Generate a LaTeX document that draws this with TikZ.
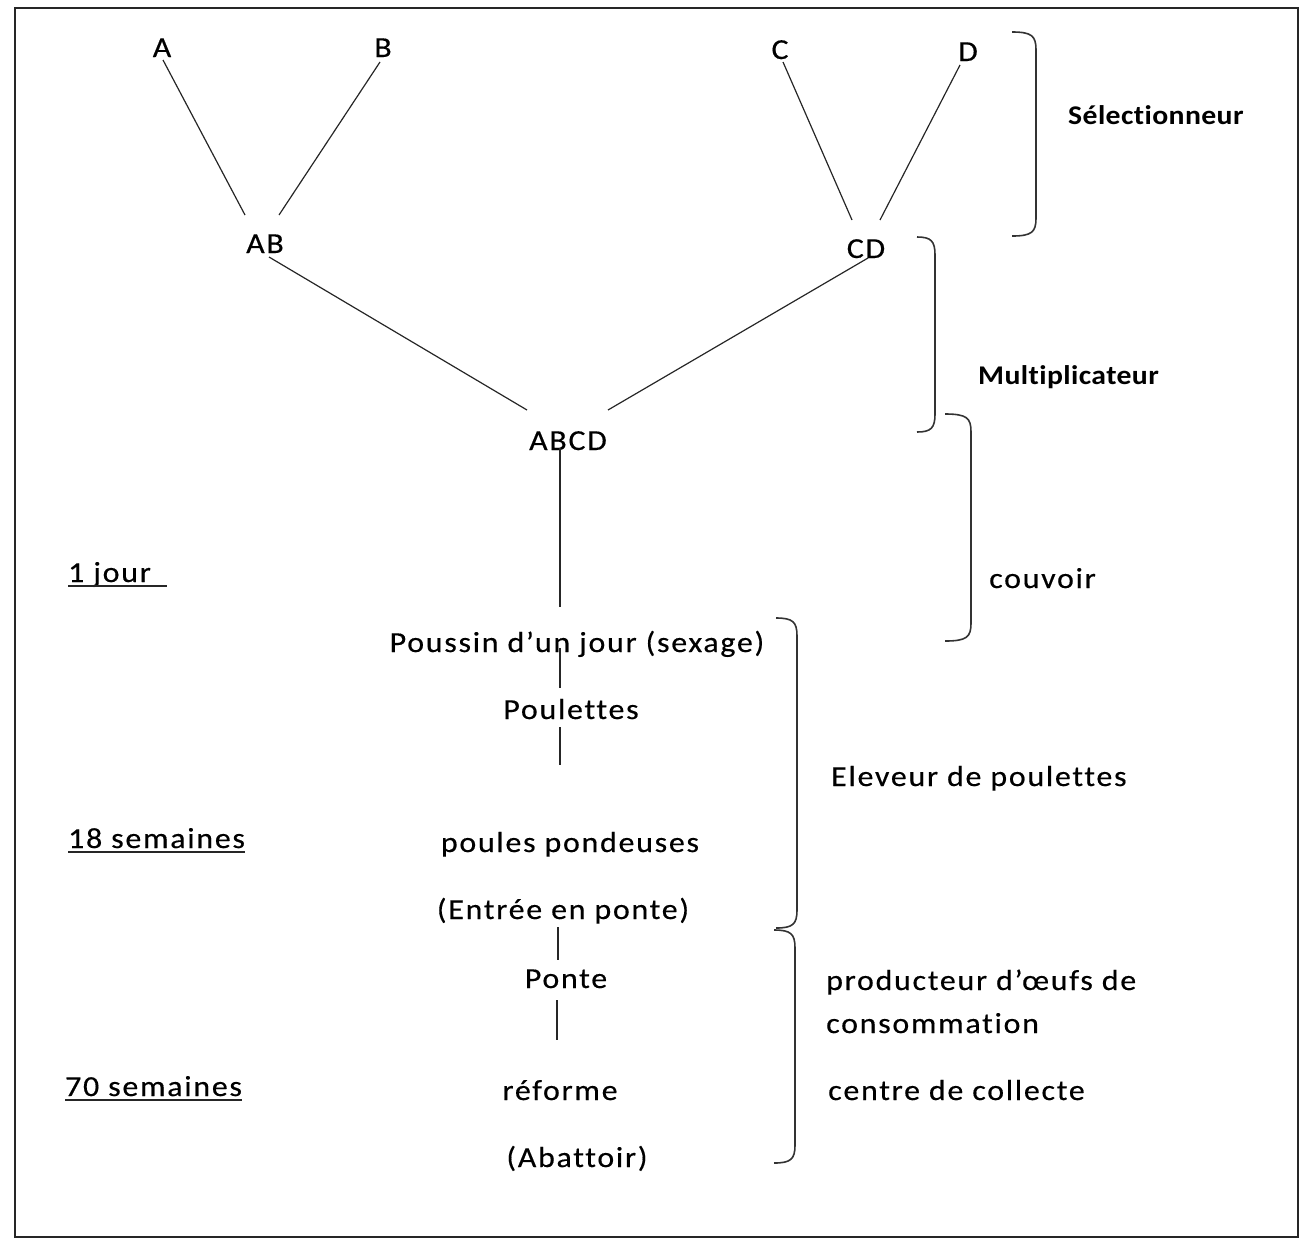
\documentclass[tikz,border=0pt]{standalone}
\usepackage{fontspec}
\setmainfont{Carlito}
\newfontfamily\lowf{Carlito}[LetterSpace=6,FakeStretch=1.1,FakeBold=0.4,Ligatures=NoCommon]
\newfontfamily\boldf{Carlito Bold}[LetterSpace=1.5,FakeStretch=1.1,Ligatures=NoCommon]
\usetikzlibrary{calc}
\newcommand{\myBracket}[4]{% x0 ytop xv ybot
  \draw[brace] (#1,#2) .. controls (#3-4,#2) and (#3,#2+4) .. (#3,#2+18)
    -- (#3,#4-18) .. controls (#3,#4-4) and (#3-4,#4) .. (#1,#4);}
\begin{document}
\begin{tikzpicture}[x=1pt,y=-1pt,
  lbl/.style={anchor=base,inner sep=0pt,font=\lowf\fontsize{29}{34}\selectfont},
  lblw/.style={lbl,anchor=base west},
  hdr/.style={anchor=base west,inner sep=0pt,font=\boldf\fontsize{27}{30}\selectfont},
  link/.style={line width=1.2pt,black!85},
  brace/.style={line width=1.6pt,black!80},
  uline/.style={line width=1.6pt,black!85}]
\useasboundingbox (0,0) rectangle (1305,1240);
\draw[line width=2.2pt,black!85] (15,8) rectangle (1298,1237);

% top labels
\node[lbl] (A) at (162,57) {A};
\node[lbl] (B) at (383,57) {B};
\node[lbl] (C) at (780,59) {C};
\node[lbl] (D) at (968,61) {D};
\node[lbl] (AB) at (265,253) {AB};
\node[lbl] (CD) at (866,258) {CD};
\node[lbl] (ABCD) at (568,450) {ABCD};

% middle column
\node[lbl] (pous) at (577,652) {Poussin d’un jour (sexage)};
\node[lbl] (poul) at (571,719) {Poulettes};
\node[lbl] (pond) at (570,852) {poules pondeuses};
\node[lbl] (entr) at (563,919) {(Entrée en ponte)};
\node[lbl] (ponte) at (566,988) {Ponte};
\node[lbl] (ref) at (560,1100) {réforme};
\node[lbl] (abat) at (577,1167) {(Abattoir)};

% left labels
\node[lblw] (j1) at (68,582) {1 jour};
\node[lblw] (s18) at (68,848) {18 semaines};
\node[lblw] (s70) at (65,1096) {70 semaines};
\draw[uline] ([shift={(0,4)}]j1.base west) -- ++(99,0);
\draw[uline] ([shift={(0,4)}]s18.base west) -- ([shift={(0,4)}]s18.base east);
\draw[uline] ([shift={(0,4)}]s70.base west) -- ([shift={(0,4)}]s70.base east);

% right labels
\node[hdr] (sel) at (1068,124) {Sélectionneur};
\node[hdr] (mul) at (978,384) {Multiplicateur};
\node[lblw] (cou) at (989,588) {couvoir};
\node[lblw] (ele) at (831,786) {Eleveur de poulettes};
\node[lblw] (pro) at (826,990) {producteur d’œufs de};
\node[lblw] (con) at (826,1033) {consommation};
\node[lblw] (cen) at (828,1100) {centre de collecte};

% connectors
\draw[link] ([shift={(1,3)}]A.base) -- ([shift={(-20,-38)}]AB.base);
\draw[link] ([shift={(-3,5)}]B.base) -- ([shift={(14,-38)}]AB.base);
\draw[link] ([shift={(3,3)}]C.base) -- ([shift={(-14,-38)}]CD.base);
\draw[link] ([shift={(-8,4)}]D.base) -- ([shift={(14,-38)}]CD.base);
\draw[link] ([shift={(4,4)}]AB.base) -- ([shift={(-41,-40)}]ABCD.base);
\draw[link] ([shift={(2,0)}]CD.base) -- ([shift={(40,-40)}]ABCD.base);
\draw[link] ([shift={(-8,-2)}]ABCD.base) -- ([shift={(-17,-45)}]pous.base);
\draw[link] ([shift={(-17,-4)}]pous.base) -- ([shift={(-11,-31)}]poul.base);
\draw[link] ([shift={(-11,8)}]poul.base) -- ([shift={(-10,-87)}]pond.base);
\draw[link] ([shift={(-5,8)}]entr.base) -- ([shift={(-8,-28)}]ponte.base);
\draw[link] ([shift={(-9,12)}]ponte.base) -- ([shift={(-3,-60)}]ref.base);

% brackets
\myBracket{1012}{32}{1036}{236}
\myBracket{917}{237}{935}{432}
\myBracket{945}{414}{971}{641}
\myBracket{776}{618}{797}{928}
\myBracket{774}{930}{795}{1163}
\end{tikzpicture}
\end{document}
